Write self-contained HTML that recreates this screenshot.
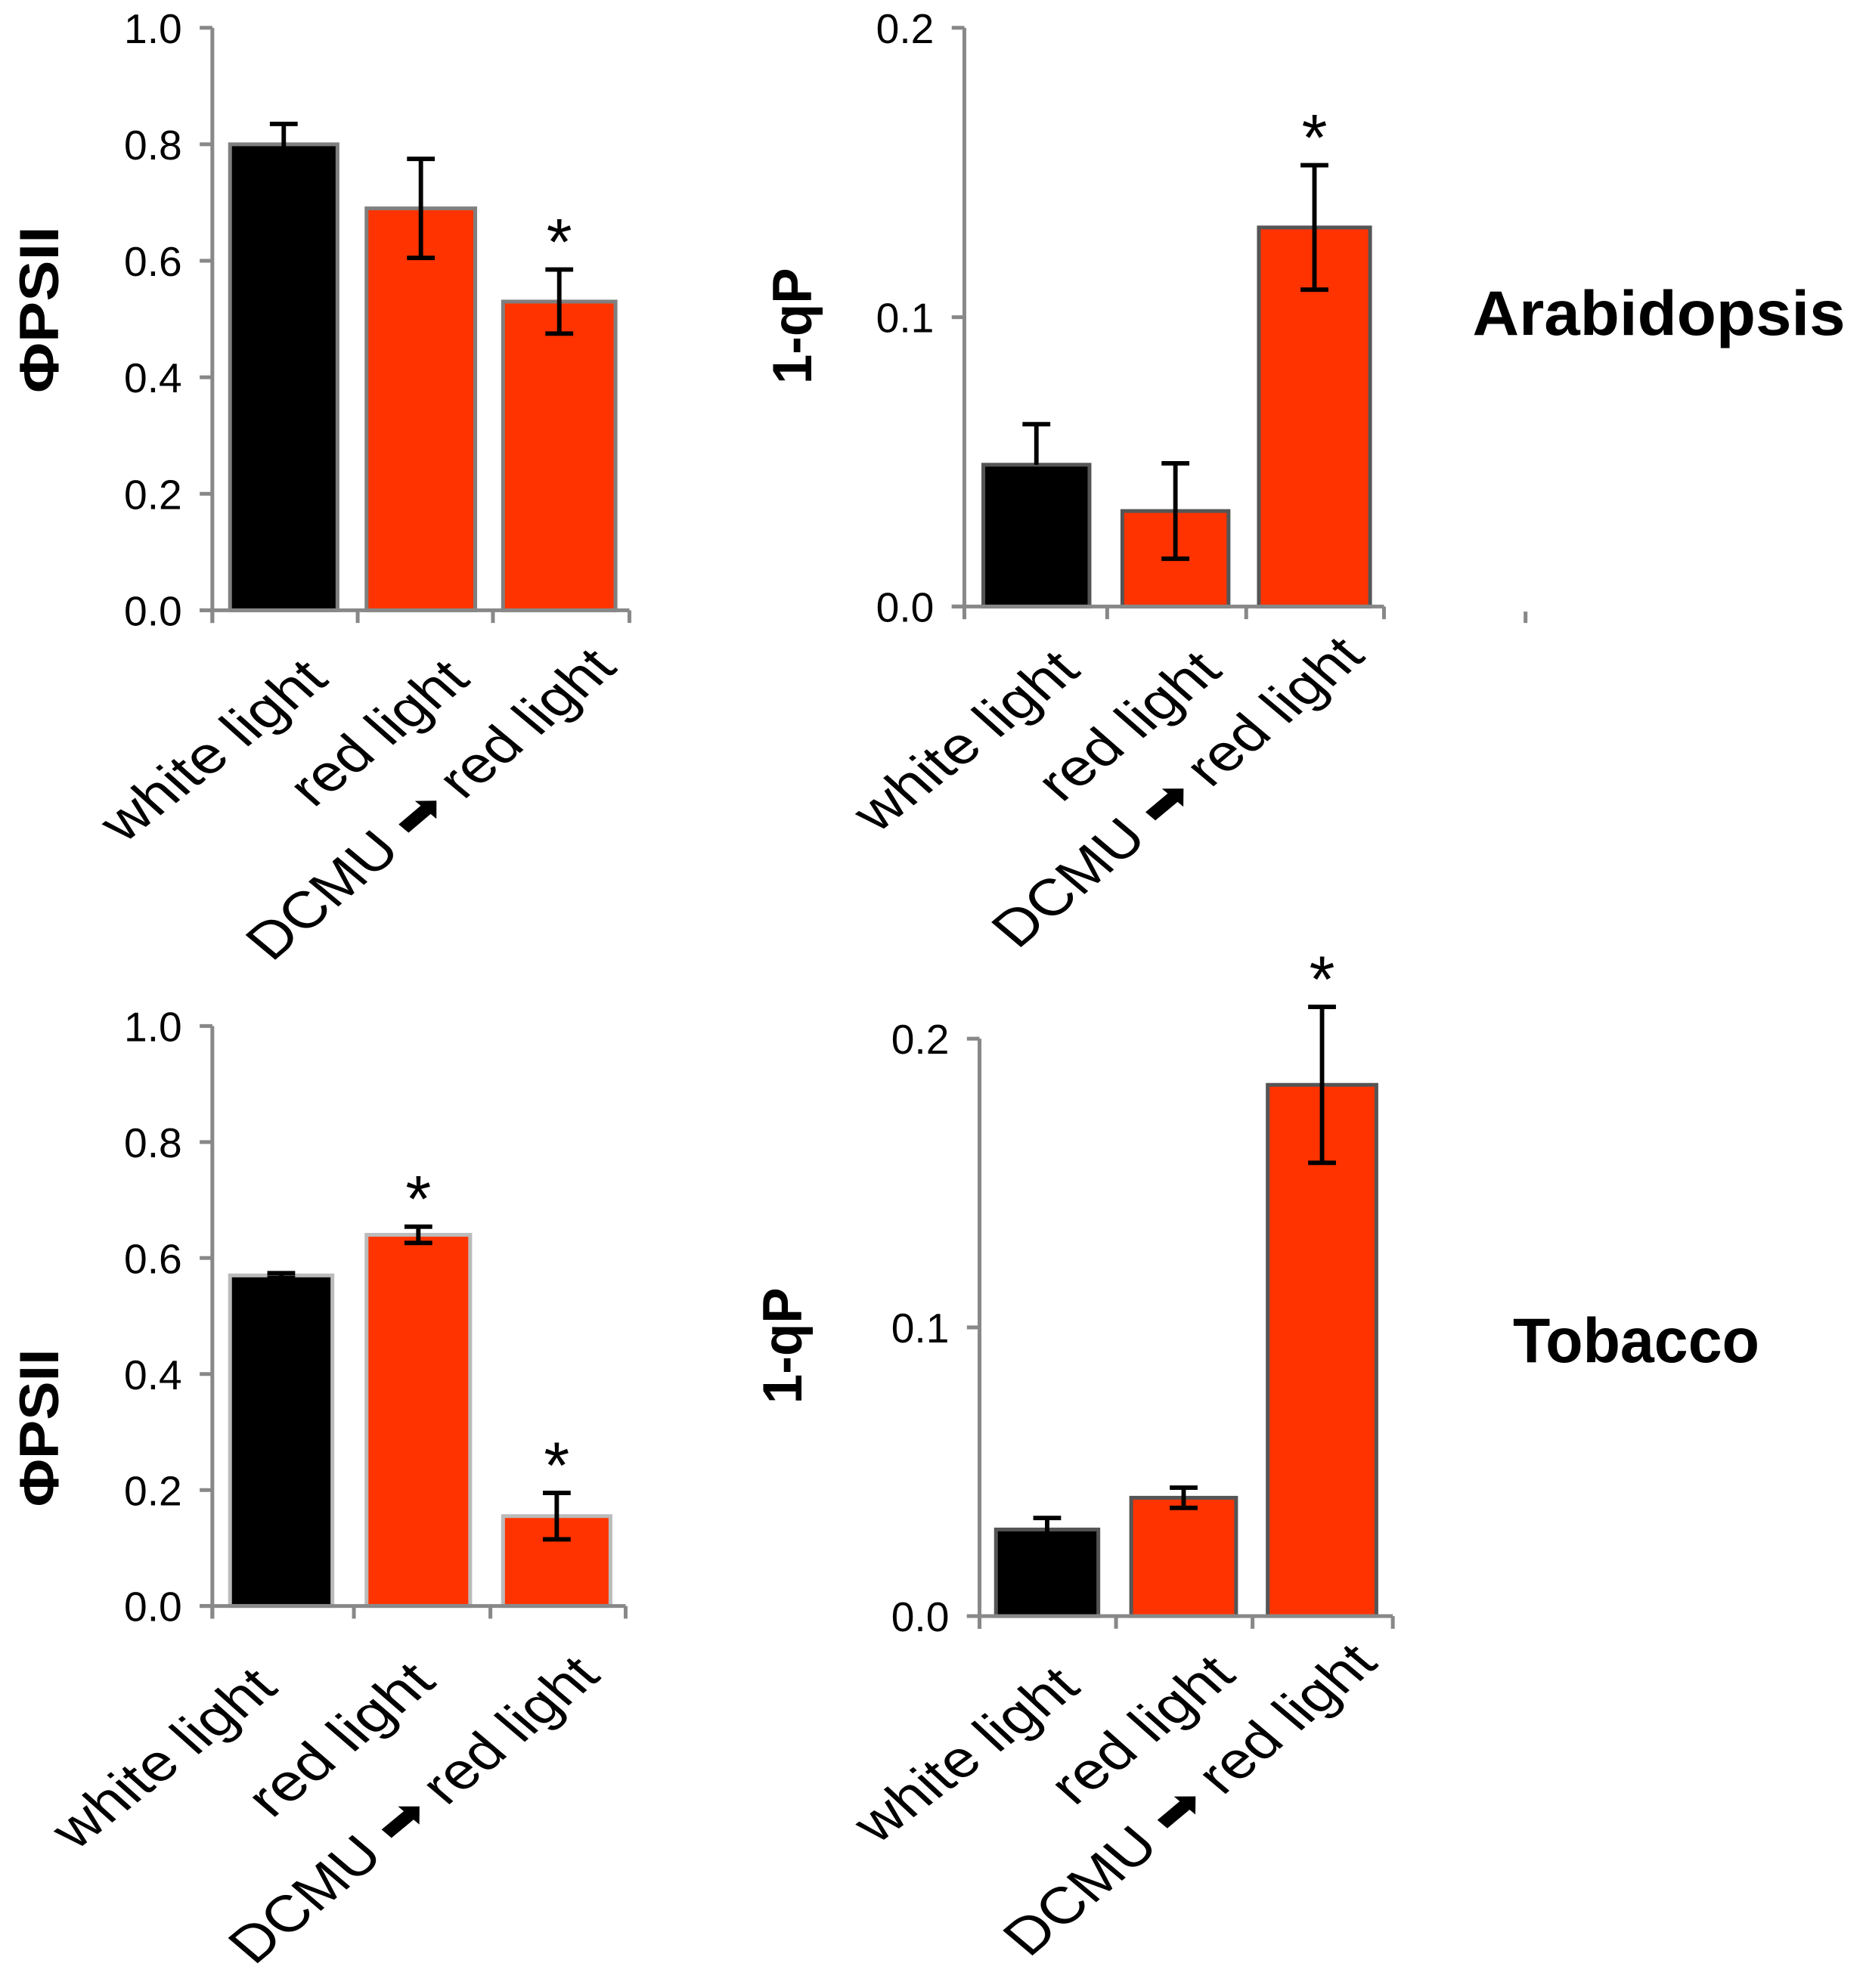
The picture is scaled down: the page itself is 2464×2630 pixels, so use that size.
<!DOCTYPE html>
<html><head><meta charset="utf-8"><style>
html,body{margin:0;padding:0;background:#fff}
svg{display:block}
</style></head><body>
<svg id="fig" width="2464" height="2630" viewBox="0 0 1474 1573.3" preserveAspectRatio="none" xmlns="http://www.w3.org/2000/svg" font-family="'Liberation Sans', 'DejaVu Sans', sans-serif">
<text x="1165" y="265" font-size="50" font-weight="bold" textLength="295" lengthAdjust="spacingAndGlyphs">Arabidopsis</text>
<text x="1197" y="1078" font-size="50" font-weight="bold" textLength="195" lengthAdjust="spacingAndGlyphs">Tobacco</text>
<line x1="1207" y1="484" x2="1207" y2="493" stroke="#888" stroke-width="3"/>
</svg>
<script>
const categories = ["white light", "red light", "DCMU \u27A1 red light"];
const colorsFill = ["#000000", "#ff3300", "#ff3300"];
// Panel A: Arabidopsis PhiPSII
const valuesA = [0.80, 0.69, 0.53];
const errorsA = [0.035, 0.085, 0.055];
const starsA = [false, false, true];
const ticksA = ["0.0", "0.2", "0.4", "0.6", "0.8", "1.0"];
// Panel B: Arabidopsis 1-qP
const valuesB = [0.049, 0.033, 0.131];
const errorsB = [0.014, 0.0165, 0.0215];
const starsB = [false, false, true];
const ticksB = ["0.0", "0.1", "0.2"];
// Panel C: Tobacco PhiPSII
const valuesC = [0.57, 0.64, 0.155];
const errorsC = [0.004, 0.014, 0.04];
const starsC = [false, true, true];
const ticksC = ["0.0", "0.2", "0.4", "0.6", "0.8", "1.0"];
// Panel D: Tobacco 1-qP
const valuesD = [0.030, 0.041, 0.184];
const errorsD = [0.004, 0.0035, 0.027];
const starsD = [false, false, true];
const ticksD = ["0.0", "0.1", "0.2"];

const NS = "http://www.w3.org/2000/svg";
const svg = document.getElementById("fig");
function mk(tag, attrs, parent) {
  const e = document.createElementNS(NS, tag);
  for (const k in attrs) e.setAttribute(k, attrs[k]);
  (parent || svg).appendChild(e);
  return e;
}

const panels = [
  {id:"arabidopsis-phipsii", vals:valuesA, errs:errorsA, stars:starsA, ticks:ticksA, max:1.0,
   ax:168, top:22, bot:483, right:498, cats:[168,283,390,498], bars:[[182,267],[290,376],[398,487]],
   title:"\u03A6PSII", tx:46, ty:245, tlen:132, border:"#7f7f7f", hideLowerErr:false,
   labels:[[90,668,250,522],[240,640,362,522],[207,762,478,512]]},
  {id:"arabidopsis-1-qp", vals:valuesB, errs:errorsB, stars:starsB, ticks:ticksB, max:0.2,
   ax:763, top:22, bot:480, right:1095, cats:[763,876,986,1095], bars:[[778,862],[888,972],[996,1084]],
   title:"1-qP", tx:642, ty:258, tlen:92, border:"#555", hideLowerErr:true,
   labels:[[686,660,845,515],[832,636,957,515],[797,752,1070,503]]},
  {id:"tobacco-phipsii", vals:valuesC, errs:errorsC, stars:starsC, ticks:ticksC, max:1.0,
   ax:168, top:812, bot:1271, right:495, cats:[168,280,388,495], bars:[[182,263],[290,372],[398,483]],
   title:"\u03A6PSII", tx:46, ty:1130, tlen:125, border:"#bbb", hideLowerErr:false,
   labels:[[52,1465,210,1320],[207,1440,335,1315],[193,1556,465,1310]]},
  {id:"tobacco-1-qp", vals:valuesD, errs:errorsD, stars:starsD, ticks:ticksD, max:0.2,
   ax:775, top:822, bot:1279, right:1102, cats:[775,883,991,1102], bars:[[788,869],[895,978],[1003,1089]],
   title:"1-qP", tx:634, ty:1065, tlen:92, border:"#555", hideLowerErr:false,
   labels:[[686,1460,845,1320],[842,1430,968,1310],[806,1550,1080,1300]]}
];

panels.forEach(p => {
  const g = mk("g", {});
  
  
  const y = v => p.bot - (v / p.max) * (p.bot - p.top);
  p.vals.forEach((v, i) => {
    const [x0, x1] = p.bars[i];
    const r = mk("rect", {x:x0, y:y(v), width:x1-x0, height:p.bot-y(v), fill:colorsFill[i], stroke:p.border, "stroke-width":3}, g);
    
    
  });
  p.vals.forEach((v, i) => {
    const cx = (p.bars[i][0] + p.bars[i][1]) / 2;
    const hi = y(v + p.errs[i]), lo = y(v - p.errs[i]);
    const eg = mk("g", {stroke:"#000", "stroke-width":3.5}, g);
    
    
    const showLo = !(p.hideLowerErr && i === 0);
    mk("line", {x1:cx, y1:hi, x2:cx, y2:showLo ? lo : y(v)}, eg);
    mk("line", {x1:cx-11, y1:hi, x2:cx+11, y2:hi}, eg);
    if (showLo) mk("line", {x1:cx-11, y1:lo, x2:cx+11, y2:lo}, eg);
    if (p.stars[i]) {
      const s = mk("text", {x:cx, y:hi-4, "font-size":52, "text-anchor":"middle"}, g);
      s.textContent = "*";
      
      
    }
  });
  const ax = mk("g", {stroke:"#888", "stroke-width":3, fill:"none"}, g);
  
  
  mk("line", {x1:p.ax, y1:p.top, x2:p.ax, y2:p.bot+10}, ax);
  mk("line", {x1:p.ax-10, y1:p.bot, x2:p.right, y2:p.bot}, ax);
  p.cats.forEach(cx => mk("line", {x1:cx, y1:p.bot, x2:cx, y2:p.bot+10}, ax));
  p.ticks.forEach(t => {
    const ty = y(parseFloat(t));
    mk("line", {x1:p.ax-10, y1:ty, x2:p.ax, y2:ty}, ax);
    const tl = mk("text", {x:p.ax-24, y:ty+12, "font-size":33, "text-anchor":"end", fill:"#000"}, g);
    tl.textContent = t;
    
    
  });
  const yt = mk("text", {x:0, y:0, "font-size":44, "font-weight":"bold", "text-anchor":"middle",
    transform:`translate(${p.tx},${p.ty}) rotate(-90)`, textLength:p.tlen, lengthAdjust:"spacingAndGlyphs"}, g);
  yt.textContent = p.title;
  
  
  p.labels.forEach((L, i) => {
    const [sx, sy, tx, ty] = L;
    const ex = tx + 8, ey = ty + 14;
    const ang = Math.atan2(ey - sy, ex - sx) * 180 / Math.PI;
    const len = Math.hypot(ex - sx, ey - sy);
    const t = mk("text", {x:0, y:0, "font-size":44, transform:`translate(${sx+8},${sy}) rotate(${ang}) skewX(10)`,
      textLength:len-6, lengthAdjust:"spacingAndGlyphs"}, g);
    t.textContent = categories[i];
    
    
  });
});
</script>
</body></html>
